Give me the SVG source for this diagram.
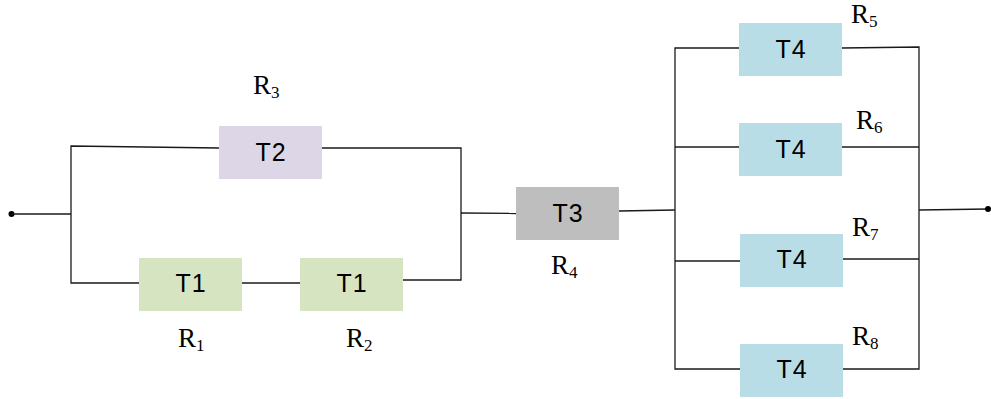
<svg xmlns="http://www.w3.org/2000/svg" width="991" height="399" viewBox="0 0 991 399">
<style>
.w{fill:none;stroke:#1a1a1a;stroke-width:1.3}
.t{font-family:"Liberation Sans",Arial,sans-serif;font-size:25px;fill:#000;text-anchor:middle;letter-spacing:1px}
.r{font-family:"Liberation Serif","Times New Roman",serif;font-size:27px;fill:#000}
.s{font-size:17px}
</style>
<rect width="991" height="399" fill="#fff"/>
<g id="connectors">
<circle cx="11.5" cy="214" r="3" fill="#000"/>
<polyline class="w" points="11.5,214 71,214"/>
<polyline class="w" points="219,148 71,146 71,283 139,283"/>
<polyline class="w" points="242,283 300,283"/>
<polyline class="w" points="322,148 461,148 461,280 403,280"/>
<polyline class="w" points="461,213 516,213.5"/>
<polyline class="w" points="619,211 675,210"/>
<polyline class="w" points="739,48 675,48 675,369 740,369"/>
<polyline class="w" points="675,147 739,147"/>
<polyline class="w" points="675,261 740,261"/>
<polyline class="w" points="842,48 919,47 919,369 843,369"/>
<polyline class="w" points="842,147 919,147"/>
<polyline class="w" points="843,259 919,259"/>
<polyline class="w" points="919,210 988,209"/>
<circle cx="988" cy="209" r="3" fill="#000"/>
</g>
<g id="T2"><rect x="219" y="126" width="103" height="53" fill="#dcd6e7"/><text class="t" x="271" y="161">T2</text></g>
<g id="T1a"><rect x="139" y="258" width="103" height="53" fill="#d7e4c1"/><text class="t" x="191" y="292">T1</text></g>
<g id="T1b"><rect x="300" y="258" width="103" height="53" fill="#d7e4c1"/><text class="t" x="352" y="292">T1</text></g>
<g id="T3"><rect x="516" y="187" width="103" height="53" fill="#bebebe"/><text class="t" x="568" y="222">T3</text></g>
<g id="T4a"><rect x="739" y="23" width="103" height="53" fill="#b8dde7"/><text class="t" x="791" y="58">T4</text></g>
<g id="T4b"><rect x="739" y="123" width="103" height="53" fill="#b8dde7"/><text class="t" x="791" y="158">T4</text></g>
<g id="T4c"><rect x="740" y="234" width="103" height="53" fill="#b8dde7"/><text class="t" x="792" y="268">T4</text></g>
<g id="T4d"><rect x="740" y="344" width="103" height="53" fill="#b8dde7"/><text class="t" x="792" y="378">T4</text></g>
<g id="labels">
<text class="r" x="253" y="94">R<tspan class="s" dy="4">3</tspan></text>
<text class="r" x="178" y="347">R<tspan class="s" dy="4">1</tspan></text>
<text class="r" x="346" y="347">R<tspan class="s" dy="4">2</tspan></text>
<text class="r" x="551" y="274">R<tspan class="s" dy="4">4</tspan></text>
<text class="r" x="851" y="23">R<tspan class="s" dy="4">5</tspan></text>
<text class="r" x="856" y="129">R<tspan class="s" dy="4">6</tspan></text>
<text class="r" x="852" y="236">R<tspan class="s" dy="4">7</tspan></text>
<text class="r" x="852" y="345">R<tspan class="s" dy="4">8</tspan></text>
</g>
</svg>
